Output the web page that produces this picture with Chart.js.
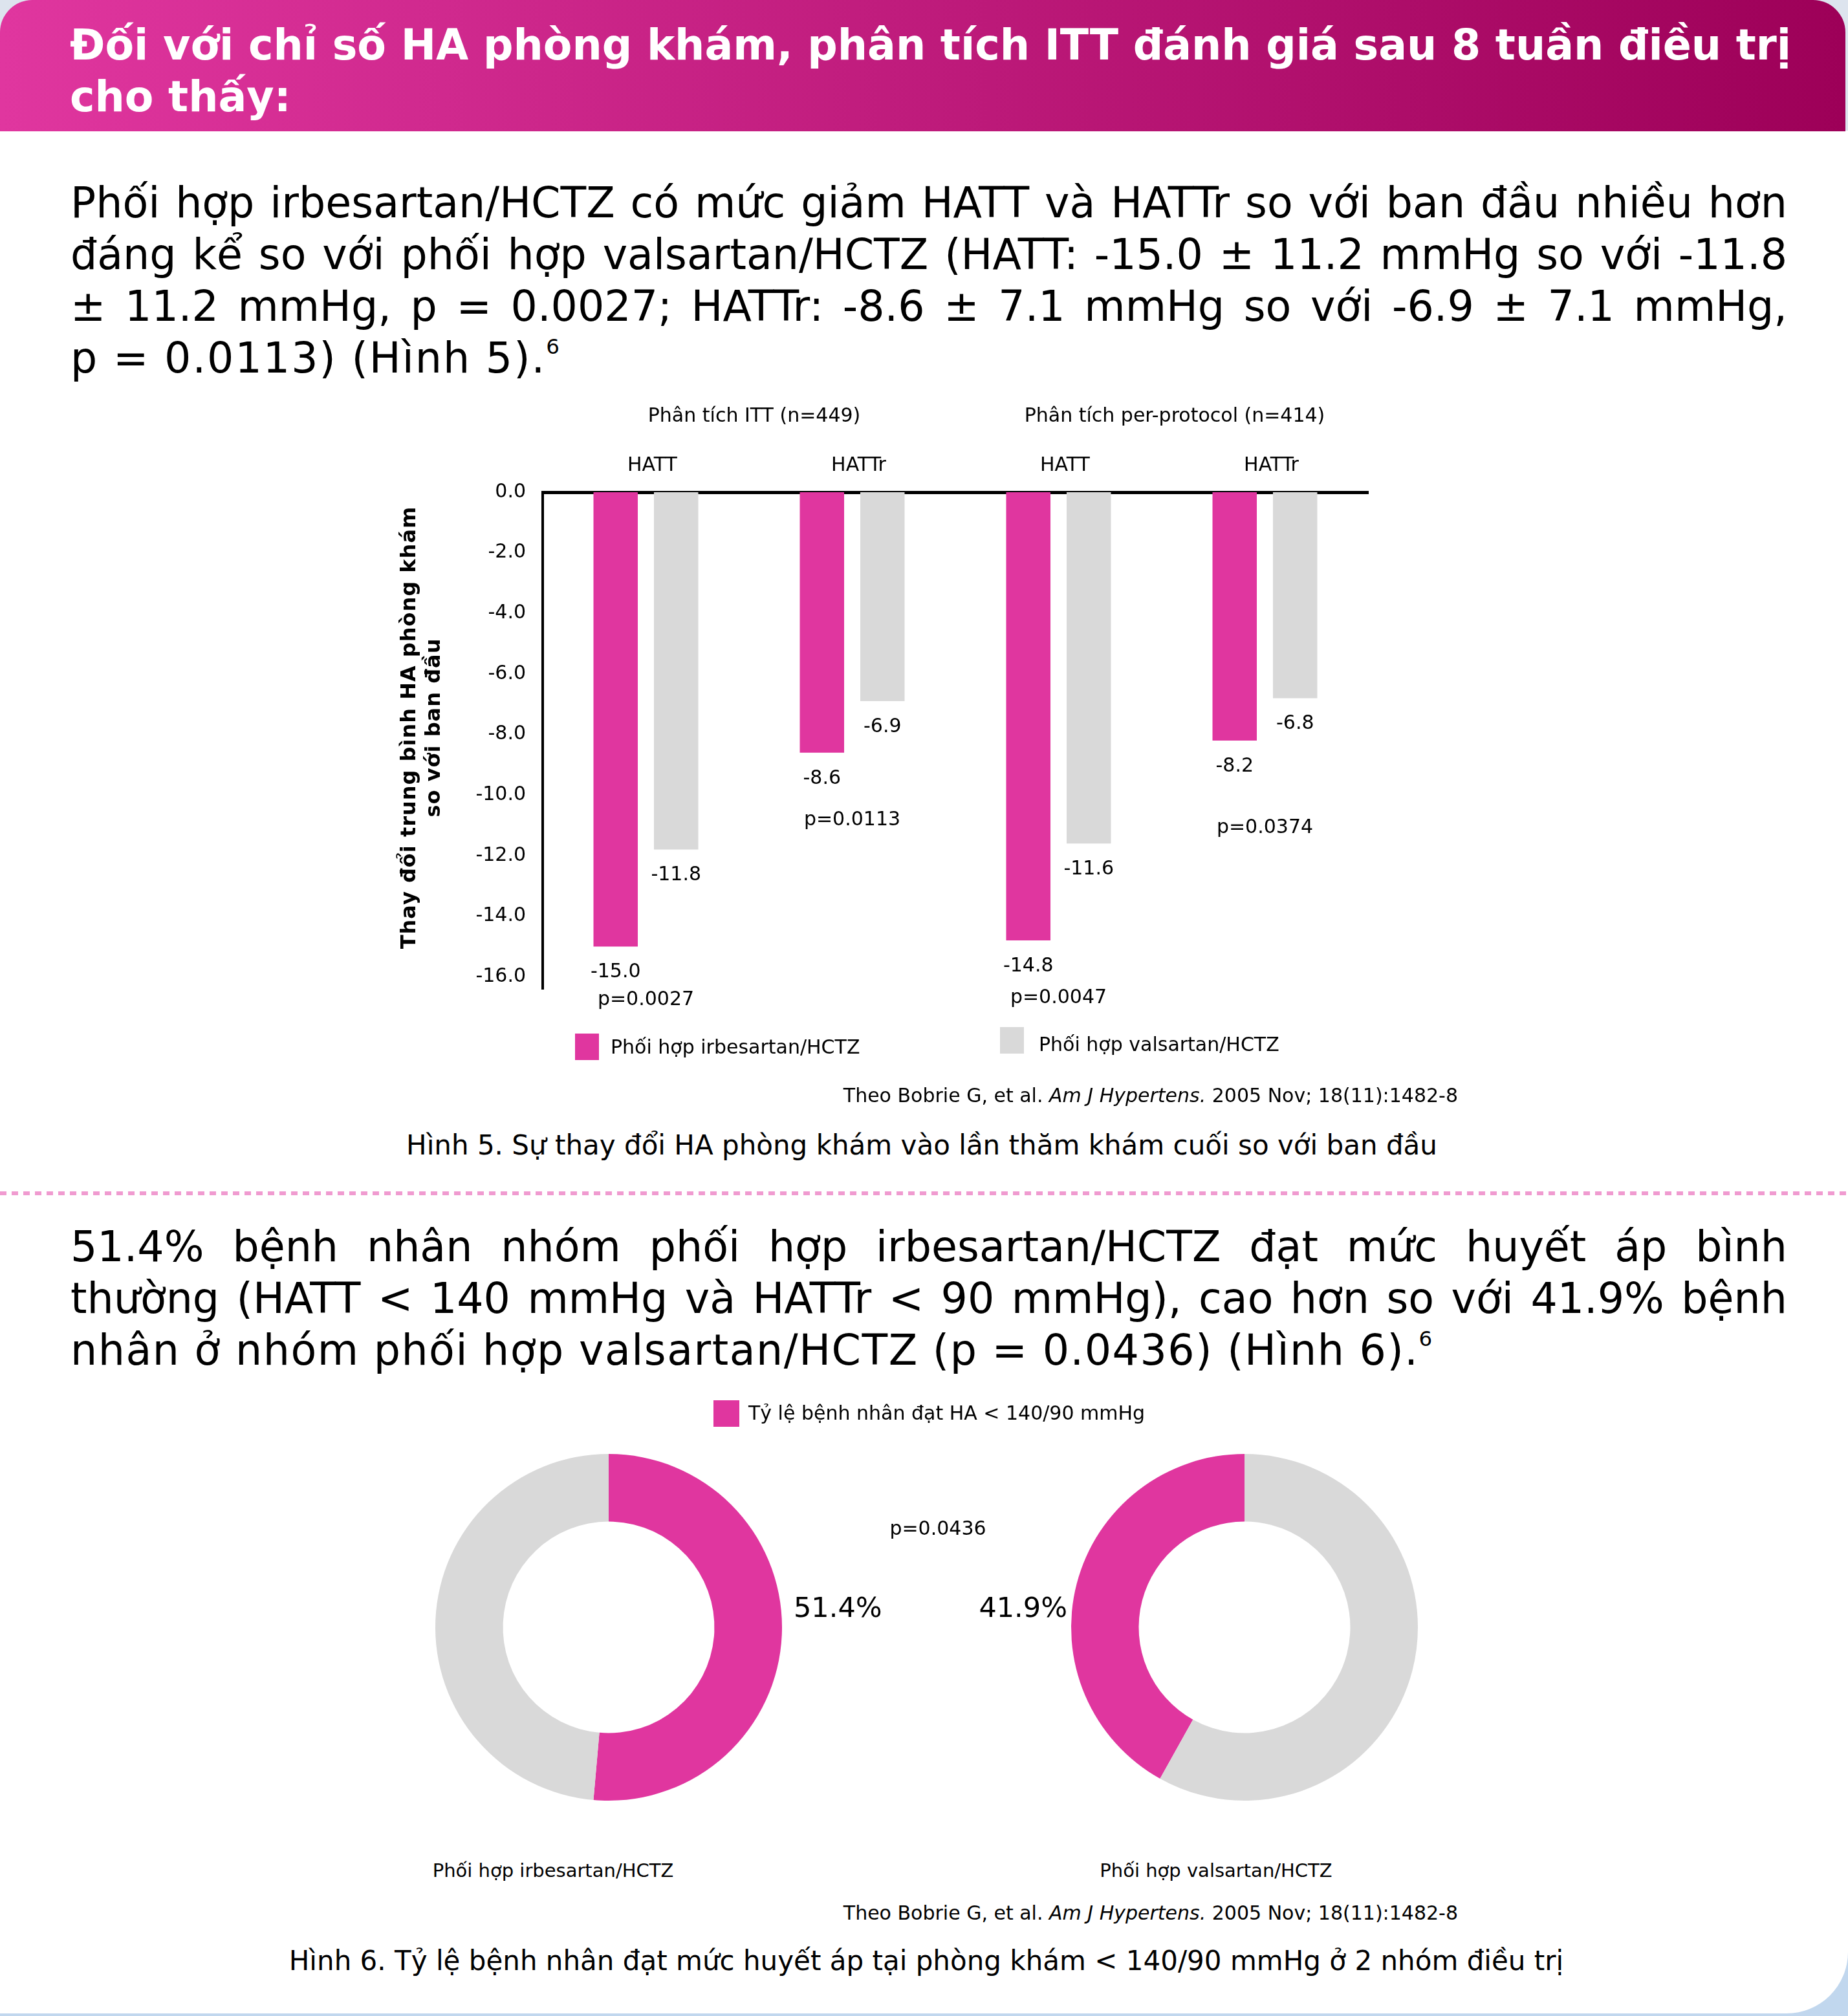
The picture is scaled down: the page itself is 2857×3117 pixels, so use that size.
<!DOCTYPE html>
<html><head><meta charset="utf-8">
<script src="https://cdn.jsdelivr.net/npm/chart.js@4.4.1/dist/chart.umd.min.js"></script>
<style>
html,body{margin:0;padding:0}
body{width:2857px;height:3117px;position:relative;overflow:hidden;background:#dde4ee;font-family:"DejaVu Sans",Verdana,sans-serif;color:#000}
.abs{position:absolute}
#bottomBg{left:0;top:2900px;width:2857px;height:217px;background:#c1d7ee}
#card{left:0;top:202px;width:2857px;height:2911px;background:#fff;border-bottom-right-radius:95px}
#header{left:0;top:0;width:2853px;height:203px;border-radius:50px 50px 0 0;background:linear-gradient(90deg,#e0369f,#9d0058)}
#htext{left:108px;top:30px;width:2720px;color:#fff;font-weight:bold;font-size:65px;line-height:80px;white-space:nowrap}
.para{left:109px;width:2654px;font-size:65px;line-height:80px}
.para div{height:80px}
.jl{text-align:justify;text-align-last:justify}
.last{letter-spacing:2px;white-space:nowrap}
.last2{letter-spacing:1.5px;white-space:nowrap}
sup{font-size:0.5em;line-height:0;vertical-align:0.9em}
#dots{left:0;top:1842px;width:2857px;height:6px;background:repeating-linear-gradient(90deg,#f09bd0 0 10px,transparent 10px 18px)}
.small{font-size:30px;line-height:40px;white-space:nowrap}
.cap{font-size:42px;line-height:50px;white-space:nowrap;text-align:center;width:2400px}
.dl{font-size:29px;line-height:40px;white-space:nowrap;text-align:center;width:800px}
canvas{position:absolute}
</style></head>
<body>
<div id="bottomBg" class="abs"></div>
<div id="card" class="abs"></div>
<div id="header" class="abs"></div>
<div id="htext" class="abs">Đối với chỉ số HA phòng khám, phân tích ITT đánh giá sau 8 tuần điều trị<br>cho thấy:</div>

<div class="abs para" style="top:274px">
<div class="jl">Phối hợp irbesartan/HCTZ có mức giảm HATT và HATTr so với ban đầu nhiều hơn</div>
<div class="jl">đáng kể so với phối hợp valsartan/HCTZ (HATT: -15.0 ± 11.2 mmHg so với -11.8</div>
<div class="jl">± 11.2 mmHg, p = 0.0027; HATTr: -8.6 ± 7.1 mmHg so với -6.9 ± 7.1 mmHg,</div>
<div class="last">p = 0.0113) (Hình 5).<sup>6</sup></div>
</div>

<canvas id="bar" width="1700" height="1080" style="left:560px;top:600px"></canvas>

<div class="abs small" style="right:603px;top:1674px">Theo Bobrie G, et al. <i>Am J Hypertens.</i> 2005 Nov; 18(11):1482-8</div>
<div class="abs cap" style="left:225px;top:1746px">Hình 5. Sự thay đổi HA phòng khám vào lần thăm khám cuối so với ban đầu</div>

<div id="dots" class="abs"></div>

<div class="abs para" style="top:1888px">
<div class="jl">51.4% bệnh nhân nhóm phối hợp irbesartan/HCTZ đạt mức huyết áp bình</div>
<div class="jl">thường (HATT &lt; 140 mmHg và HATTr &lt; 90 mmHg), cao hơn so với 41.9% bệnh</div>
<div class="last2">nhân ở nhóm phối hợp valsartan/HCTZ (p = 0.0436) (Hình 6).<sup>6</sup></div>
</div>

<canvas id="donutA" width="1140" height="660" style="left:640px;top:2140px"></canvas>
<canvas id="donutB" width="860" height="660" style="left:1340px;top:2140px"></canvas>

<div class="abs dl" id="dlA" style="left:455px;top:2872px"></div>
<div class="abs dl" id="dlB" style="left:1480px;top:2872px"></div>

<div class="abs small" style="right:603px;top:2938px">Theo Bobrie G, et al. <i>Am J Hypertens.</i> 2005 Nov; 18(11):1482-8</div>
<div class="abs cap" style="left:232px;top:3007px">Hình 6. Tỷ lệ bệnh nhân đạt mức huyết áp tại phòng khám &lt; 140/90 mmHg ở 2 nhóm điều trị</div>

<script>
// ---------- DATA ----------
const barCategories = ['HATT', 'HATTr', 'HATT', 'HATTr'];
const analysisGroups = ['Phân tích ITT (n=449)', 'Phân tích per-protocol (n=414)'];
const seriesNames = ['Phối hợp irbesartan/HCTZ', 'Phối hợp valsartan/HCTZ'];
const irbesartanChange = [-15.0, -8.6, -14.8, -8.2];
const valsartanChange = [-11.8, -6.9, -11.6, -6.8];
const pValues = ['p=0.0027', 'p=0.0113', 'p=0.0047', 'p=0.0374'];
const yTickValues = [0, -2, -4, -6, -8, -10, -12, -14, -16];
const yAxisTitle = ['Thay đổi trung bình HA phòng khám', 'so với ban đầu'];

const donutGroups = ['Phối hợp irbesartan/HCTZ', 'Phối hợp valsartan/HCTZ'];
const achievedPct = [51.4, 41.9];
const notAchievedPct = [48.6, 58.1];
const donutLegend = 'Tỷ lệ bệnh nhân đạt HA < 140/90 mmHg';
const donutP = 'p=0.0436';

// ---------- STYLE / LAYOUT ----------
const PINK = '#e0369f';
const GRAY = '#d9d9d9';
const FONT = '"DejaVu Sans", Verdana, sans-serif';
const BAR_LAYOUT = {
  valueGap: 40,
  pOffsets: [83, 104, 89, 135],
  groupHeaderY: 44,
  groupHeaderDx: [8, 20],
  titleX: 74, titleY: 525, titleLine: 38,
  legend: [{box: [329, 998], text: [384, 1021]}, {box: [986, 988], text: [1046, 1017]}],
  legendBox: [37, 41]
};

document.getElementById('dlA').textContent = donutGroups[0];
document.getElementById('dlB').textContent = donutGroups[1];

Chart.defaults.font.family = FONT;
Chart.defaults.color = '#000';

const barAnnotations = {
  id: 'barAnnotations',
  afterDraw(chart) {
    const ctx = chart.ctx;
    const xs = chart.scales.x;
    ctx.save();
    ctx.fillStyle = '#000';
    ctx.font = '30px ' + FONT;
    ctx.textAlign = 'center';
    ctx.textBaseline = 'middle';
    chart.data.datasets.forEach((ds, di) => {
      chart.getDatasetMeta(di).data.forEach((bar, i) => {
        ctx.fillText(ds.data[i].toFixed(1), bar.x, bar.y + BAR_LAYOUT.valueGap);
      });
    });
    const pinkMeta = chart.getDatasetMeta(0).data;
    pValues.forEach((p, i) => {
      ctx.fillText(p, xs.getPixelForValue(i), pinkMeta[i].y + BAR_LAYOUT.pOffsets[i]);
    });
    analysisGroups.forEach((g, gi) => {
      const cx = (xs.getPixelForValue(gi * 2) + xs.getPixelForValue(gi * 2 + 1)) / 2 + BAR_LAYOUT.groupHeaderDx[gi];
      ctx.fillText(g, cx, BAR_LAYOUT.groupHeaderY);
    });
    // y-axis title (two rotated lines)
    ctx.font = 'bold 32px ' + FONT;
    if ('letterSpacing' in ctx) ctx.letterSpacing = '1px';
    yAxisTitle.forEach((line, li) => {
      ctx.save();
      ctx.translate(BAR_LAYOUT.titleX + li * BAR_LAYOUT.titleLine, BAR_LAYOUT.titleY);
      ctx.rotate(-Math.PI / 2);
      ctx.fillText(line, 0, 0);
      ctx.restore();
    });
    if ('letterSpacing' in ctx) ctx.letterSpacing = '0px';
    // legend
    ctx.font = '30px ' + FONT;
    ctx.textAlign = 'left';
    chart.data.datasets.forEach((ds, di) => {
      const L = BAR_LAYOUT.legend[di];
      ctx.fillStyle = ds.backgroundColor;
      ctx.fillRect(L.box[0], L.box[1], BAR_LAYOUT.legendBox[0], BAR_LAYOUT.legendBox[1]);
      ctx.fillStyle = '#000';
      ctx.fillText(ds.label, L.text[0], L.text[1]);
    });
    ctx.restore();
  }
};

new Chart(document.getElementById('bar'), {
  type: 'bar',
  data: {
    labels: barCategories,
    datasets: [
      {label: seriesNames[0], data: irbesartanChange, backgroundColor: PINK, categoryPercentage: 0.586, barPercentage: 0.733},
      {label: seriesNames[1], data: valsartanChange, backgroundColor: GRAY, categoryPercentage: 0.586, barPercentage: 0.733}
    ]
  },
  options: {
    responsive: false,
    animation: false,
    devicePixelRatio: 1,
    layout: {padding: {left: 0, top: 0, right: 145, bottom: 151}},
    plugins: {legend: {display: false}, tooltip: {enabled: false}},
    scales: {
      x: {
        position: 'top',
        z: 1,
        grid: {display: false, drawTicks: false},
        border: {display: true, color: '#000', width: 5},
        ticks: {padding: 23, labelOffset: 10, font: {size: 30}, color: '#000', maxRotation: 0, autoSkip: false},
        afterFit(s) { s.height = 161; }
      },
      y: {
        min: -16.4,
        max: 0,
        z: 1,
        grid: {display: false, drawTicks: false},
        border: {display: true, color: '#000', width: 4},
        afterBuildTicks(s) { s.ticks = yTickValues.map(v => ({value: v})); },
        ticks: {padding: 26, font: {size: 30}, color: '#000', callback: v => Number(v).toFixed(1)},
        title: {display: false, text: yAxisTitle},
        afterFit(s) { s.width = 279; }
      }
    }
  },
  plugins: [barAnnotations]
});

function donutPlugin(idx, extra) {
  return {
    id: 'donutText' + idx,
    afterDraw(chart) {
      const ctx = chart.ctx;
      ctx.save();
      ctx.fillStyle = '#000';
      ctx.textBaseline = 'middle';
      extra(ctx, chart);
      ctx.restore();
    }
  };
}

function makeDonut(id, idx, padding, plugin) {
  return new Chart(document.getElementById(id), {
    type: 'doughnut',
    data: {
      labels: [donutLegend, 'Không đạt'],
      datasets: [{
        data: [achievedPct[idx], notAchievedPct[idx]],
        backgroundColor: [PINK, GRAY],
        borderWidth: 0,
        hoverOffset: 0
      }]
    },
    options: {
      responsive: false,
      animation: false,
      devicePixelRatio: 1,
      cutout: '61%',
      rotation: idx === 0 ? 0 : -achievedPct[idx] * 3.6,
      layout: {padding: padding},
      plugins: {legend: {display: false}, tooltip: {enabled: false}}
    },
    plugins: [plugin]
  });
}

makeDonut('donutA', 0, {left: 33, top: 108, right: 571, bottom: 16}, donutPlugin(0, (ctx, chart) => {
  ctx.fillStyle = PINK;
  ctx.fillRect(463, 25, 40, 41);
  ctx.fillStyle = '#000';
  ctx.font = '30px ' + FONT;
  ctx.textAlign = 'left';
  ctx.fillText(chart.data.labels[0], 517, 47);
  ctx.font = '43px ' + FONT;
  ctx.fillText(achievedPct[0].toFixed(1) + '%', 587, 349);
}));

makeDonut('donutB', 1, {left: 316, top: 108, right: 8, bottom: 16}, donutPlugin(1, (ctx) => {
  ctx.font = '30px ' + FONT;
  ctx.textAlign = 'center';
  ctx.fillText(donutP, 110, 225);
  ctx.font = '43px ' + FONT;
  ctx.textAlign = 'right';
  ctx.fillText(achievedPct[1].toFixed(1) + '%', 310, 349);
}));
</script>
</body></html>
